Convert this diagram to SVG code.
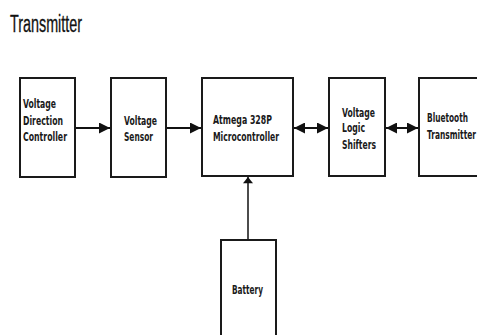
<svg xmlns="http://www.w3.org/2000/svg" width="477" height="335" viewBox="0 0 477 335">
<defs>
<style>
.box{fill:#fff;stroke:#1a1a1a;stroke-width:2}
.lbl{font-family:"DejaVu Sans Condensed","DejaVu Sans",sans-serif;font-weight:bold;font-size:12px;fill:#1a1a1a}
.con{stroke:#111;stroke-width:2;fill:none}
.title{font-family:"Liberation Sans",Arial,sans-serif;font-size:23px;fill:#111;stroke:#111;stroke-width:0.3}
</style>
<marker id="ah" viewBox="0 0 10 10" refX="10" refY="5" markerWidth="11" markerHeight="11" markerUnits="userSpaceOnUse" orient="auto-start-reverse">
<path d="M0,0 L10,5 L0,10 z" fill="#111"/>
</marker>
<marker id="ahs" viewBox="0 0 10 16" refX="10" refY="8" markerWidth="16" markerHeight="10" markerUnits="userSpaceOnUse" orient="auto">
<path d="M0,0 L10,8 L0,16 z" fill="#111"/>
</marker>
</defs>
<rect width="477" height="335" fill="#fff"/>
<text class="title" x="10" y="32" textLength="72" lengthAdjust="spacingAndGlyphs">Transmitter</text>

<g id="connectors">
<line class="con" x1="76" y1="128" x2="110" y2="128" marker-end="url(#ah)"/>
<line class="con" x1="167" y1="128" x2="201" y2="128" marker-end="url(#ah)"/>
<line class="con" x1="294" y1="128" x2="328" y2="128" marker-start="url(#ah)" marker-end="url(#ah)"/>
<line class="con" x1="386" y1="128" x2="418" y2="128" marker-start="url(#ah)" marker-end="url(#ah)"/>
<line class="con" style="stroke-width:1.5" x1="248" y1="240" x2="248" y2="177" marker-end="url(#ahs)"/>
</g>

<g id="vdc">
<rect class="box" x="20" y="78" width="55" height="99"/>
<text class="lbl" x="23" y="108" textLength="33" lengthAdjust="spacingAndGlyphs">Voltage</text>
<text class="lbl" x="23" y="125" textLength="40" lengthAdjust="spacingAndGlyphs">Direction</text>
<text class="lbl" x="23" y="141" textLength="44" lengthAdjust="spacingAndGlyphs">Controller</text>
</g>
<g id="sensor">
<rect class="box" x="111" y="78" width="55" height="99"/>
<text class="lbl" x="124" y="125" textLength="33" lengthAdjust="spacingAndGlyphs">Voltage</text>
<text class="lbl" x="124" y="141" textLength="29" lengthAdjust="spacingAndGlyphs">Sensor</text>
</g>
<g id="mcu">
<rect class="box" x="202" y="78" width="91" height="98"/>
<text class="lbl" x="213" y="124" textLength="59" lengthAdjust="spacingAndGlyphs">Atmega 328P</text>
<text class="lbl" x="213" y="141" textLength="66" lengthAdjust="spacingAndGlyphs">Microcontroller</text>
</g>
<g id="shifters">
<rect class="box" x="329" y="78" width="56" height="98"/>
<text class="lbl" x="342" y="117" textLength="33" lengthAdjust="spacingAndGlyphs">Voltage</text>
<text class="lbl" x="342" y="132" textLength="23" lengthAdjust="spacingAndGlyphs">Logic</text>
<text class="lbl" x="342" y="149" textLength="34" lengthAdjust="spacingAndGlyphs">Shifters</text>
</g>
<g id="bt">
<rect class="box" x="419" y="78" width="80" height="98"/>
<text class="lbl" x="427" y="122" textLength="41" lengthAdjust="spacingAndGlyphs">Bluetooth</text>
<text class="lbl" x="427" y="139" textLength="49" lengthAdjust="spacingAndGlyphs">Transmitter</text>
</g>
<g id="battery">
<rect class="box" x="221" y="240" width="55" height="110"/>
<text class="lbl" x="232" y="294" textLength="31" lengthAdjust="spacingAndGlyphs">Battery</text>
</g>
</svg>
